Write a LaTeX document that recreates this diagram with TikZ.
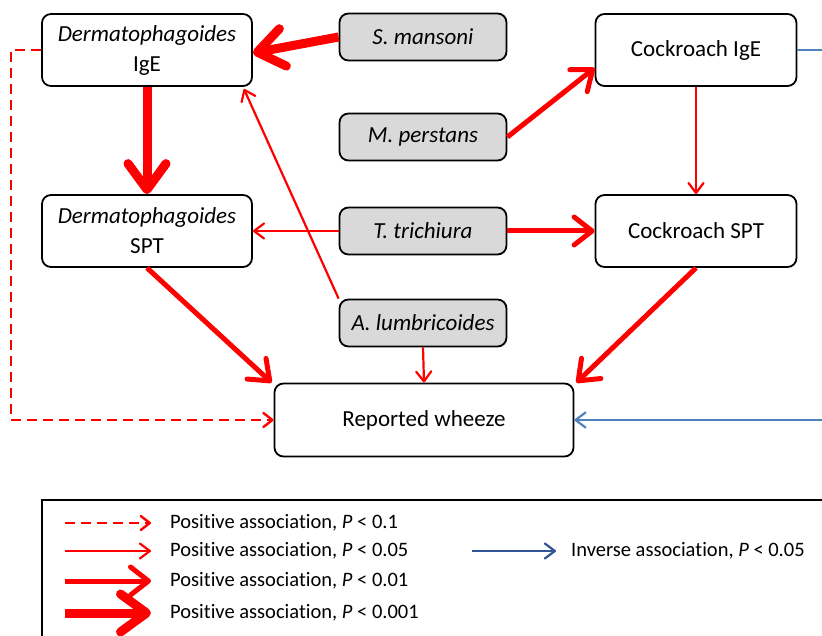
\documentclass[tikz,border=0pt]{standalone}
\usepackage{fontspec}
\setmainfont{Carlito}[Ligatures=CommonOff]
\usetikzlibrary{arrows.meta}

\definecolor{assocred}{RGB}{255,0,0}
\definecolor{assocblue}{RGB}{79,129,189}
\definecolor{keyblue}{RGB}{47,85,151}
\definecolor{wormgrey}{RGB}{217,217,217}

\begin{document}
\begin{tikzpicture}[x=1pt,y=-1pt,
  box/.style={draw,line width=1.8pt,rounded corners=9pt,align=center,inner sep=0pt,
    font=\fontsize{23}{30}\selectfont},
  worm/.style={box,fill=wormgrey,minimum width=167pt,minimum height=47pt,
    font=\fontsize{23}{28}\selectfont\itshape},
  keytext/.style={anchor=west,inner sep=0pt,font=\fontsize{20.5}{24}\selectfont},
  sigten/.style={draw=assocred,line width=2.4pt,dash pattern=on 10pt off 6pt,
    -{Straight Barb[length=9pt,width=14pt,round]}},
  sigfive/.style={draw=assocred,line width=2.2pt,-{Straight Barb[length=10pt,width=15pt,round]}},
  sigone/.style={draw=assocred,line width=5pt,-{Straight Barb[length=18pt,width=28pt,round]}},
  sigmilli/.style={draw=assocred,line width=9pt,-{Straight Barb[length=26pt,width=38pt,round]}},
  inverse/.style={draw=assocblue,line width=2.2pt,-{Straight Barb[length=10pt,width=15pt,round]}}]
\useasboundingbox (0,0) rectangle (822,636);

% allergy nodes
\node (dige) at (147,50) [box,minimum width=210pt,minimum height=72pt] {\textit{Dermatophagoides}\\IgE};
\node (dspt) at (147,231) [box,minimum width=210pt,minimum height=72pt] {\textit{Dermatophagoides}\\SPT};
\node (cige) at (696,50) [box,minimum width=201pt,minimum height=72pt] {Cockroach IgE};
\node (cspt) at (696,231) [box,minimum width=201pt,minimum height=72pt] {Cockroach SPT};
\node (wheeze) at (424,420) [box,minimum width=299pt,minimum height=73pt] {Reported wheeze};

% helminths
\node (smans) at (423,37) [worm] {S. mansoni};
\node (mper) at (423,137) [worm] {M. perstans};
\node (tri) at (423,231) [worm] {T. trichiura};
\node (alum) at (423,323) [worm] {A. lumbricoides};

\draw[sigmilli] (smans.west) -- ([yshift=-3pt]dige.east);
\draw[sigmilli] (dige.south) -- (dspt.north);
\draw[sigone] (mper.east) -- ([yshift=-18pt]cige.west);
\draw[sigfive] (tri.west) -- (dspt.east);
\draw[sigone] (tri.east) -- (cspt.west);
\draw[sigfive] (cige.south) -- (cspt.north);
\draw[sigfive] (alum.north west) -- ([xshift=-9pt,yshift=-2pt]dige.south east);
\draw[sigfive] (alum.south) -- (wheeze.north);
\draw[sigone] (dspt.south) -- ([xshift=-2pt]wheeze.north west);
\draw[sigone] (cspt.south) -- ([xshift=2pt]wheeze.north east);
\draw[sigten] (dige.west) -- ++(-30,0) |- (wheeze.west);
\draw[inverse] (cige.east) -- ++(40,0) |- (wheeze.east);

% key
\draw[line width=2.4pt] (42,500) rectangle (900,700);
\coordinate (k1) at (65,523);
\coordinate (k2) at (65,551);
\coordinate (k3) at (65,581);
\coordinate (k4) at (65,613);
\coordinate (k5) at (472,551);
\draw[sigten] (k1) -- ++(86,0);
\draw[sigfive] (k2) -- ++(86,0);
\draw[sigone] (k3) -- ++(86,0);
\draw[sigmilli] (k4) -- ++(86,0);
\draw[inverse,draw=keyblue] (k5) -- ++(84,0);
\node (t1) at (170,523) [keytext] {Positive association, \textit{P} < 0.1};
\node (t2) at (170,551) [keytext] {Positive association, \textit{P} < 0.05};
\node (t3) at (170,581) [keytext] {Positive association, \textit{P} < 0.01};
\node (t4) at (170,613) [keytext] {Positive association, \textit{P} < 0.001};
\node (t5) at (571,551) [keytext] {Inverse association, \textit{P} < 0.05};
\end{tikzpicture}
\end{document}
